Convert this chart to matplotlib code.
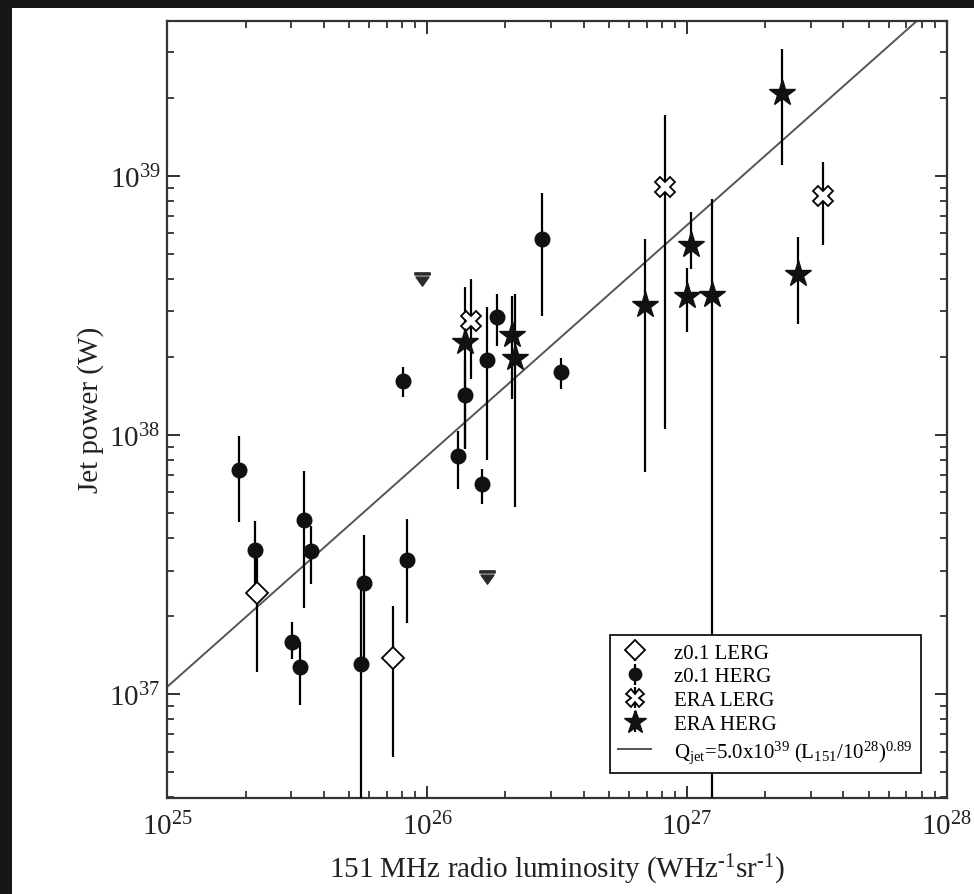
import numpy as np
import matplotlib
matplotlib.use('Agg')
from matplotlib import pyplot as plt
from matplotlib.path import Path
from matplotlib.patches import Rectangle

plt.rcParams['font.family'] = ['Liberation Serif', 'DejaVu Serif']
plt.rcParams['mathtext.fontset'] = 'custom'
plt.rcParams['mathtext.rm'] = 'Liberation Serif'
plt.rcParams['mathtext.it'] = 'Liberation Serif:italic'
plt.rcParams['mathtext.bf'] = 'Liberation Serif:bold'

# z0.1 LERG (open diamonds)
lerg_L = [2.21e25, 7.40e25]
lerg_Q = [2.45e37, 1.38e37]
lerg_lo = [1.22e37, 5.71e36]
lerg_hi = [3.48e37, 2.18e37]

# z0.1 HERG (filled circles)
herg_L = [1.89e25, 2.18e25, 3.37e25, 3.56e25, 3.03e25, 3.23e25, 5.57e25, 5.74e25,
          8.40e25, 8.08e25, 1.315e26, 1.40e26, 1.633e26, 1.70e26, 1.858e26, 2.76e26, 3.28e26]
herg_Q = [7.31e37, 3.60e37, 4.70e37, 3.56e37, 1.59e37, 1.27e37, 1.31e37, 2.68e37,
          3.30e37, 1.62e38, 8.26e37, 1.42e38, 6.44e37, 1.94e38, 2.85e38, 5.70e38, 1.75e38]
herg_lo = [4.61e37, 2.55e37, 2.15e37, 2.65e37, 1.37e37, 9.12e36, 1e36, 1.37e37,
           1.88e37, 1.40e38, 6.19e37, 8.83e37, 5.42e37, 8.01e37, 2.21e38, 2.88e38, 1.51e38]
herg_hi = [9.94e37, 4.65e37, 7.28e37, 4.47e37, 1.90e37, 1.59e37, 2.55e37, 4.11e37,
           4.74e37, 1.83e38, 1.04e38, 1.93e38, 7.39e37, 3.12e38, 3.50e38, 8.58e38, 1.98e38]

# ERA LERG (open crosses)
era_lerg_L = [1.47e26, 8.27e26, 3.35e27]
era_lerg_Q = [2.74e38, 9.07e38, 8.37e38]
era_lerg_lo = [1.65e38, 1.055e38, 5.42e38]
era_lerg_hi = [4.01e38, 1.71e39, 1.13e39]

# ERA HERG (stars)
era_herg_L = [1.394e26, 2.13e26, 2.18e26, 6.90e26, 9.98e26, 1.034e27, 1.246e27, 2.32e27, 2.68e27]
era_herg_Q = [2.28e38, 2.42e38, 1.98e38, 3.16e38, 3.44e38, 5.40e38, 3.48e38, 2.08e39, 4.18e38]
era_herg_lo = [8.83e37, 1.38e38, 5.28e37, 7.22e37, 2.50e38, 4.37e38, 1e36, 1.10e39, 2.68e38]
era_herg_hi = [3.72e38, 3.44e38, 3.50e38, 5.70e38, 4.41e38, 7.24e38, 8.13e38, 3.08e39, 5.79e38]

# upper limits
lim_L = [9.53e25, 1.70e26]
lim_Q = [3.96e38, 2.81e37]

# fit Q = A (L/1e28)^b
fit_A = 5.0e39
fit_b = 0.89


def yerr(q, lo, hi):
    q = np.array(q)
    return [q - np.array(lo), np.array(hi) - q]


fig = plt.figure(figsize=(9.74, 8.95), dpi=100)
fig.patch.set_facecolor('#161616')
fig.add_artist(Rectangle((12 / 974, 0), 1, 1 - 9 / 895, transform=fig.transFigure,
                         facecolor='white', edgecolor='none', zorder=0))

ax = fig.add_axes([0.1718, 0.1073, 0.8002, 0.8685])
ax.set_xscale('log')
ax.set_yscale('log')
ax.set_xlim(1e25, 1e28)
ax.set_ylim(3.98e36, 3.96e39)

lx = np.logspace(25, 28.2, 50)
fit_line, = ax.plot(lx, fit_A * (lx / 1e28) ** fit_b, color='#555555', lw=1.4, zorder=2)

ek = dict(ecolor='black', elinewidth=1.6, capsize=0, ls='none', zorder=3)
h1 = ax.errorbar(lerg_L, lerg_Q, yerr=yerr(lerg_Q, lerg_lo, lerg_hi), marker='D', ms=11.5,
                 mfc='white', mec='black', mew=1.3, **ek)
h2 = ax.errorbar(herg_L, herg_Q, yerr=yerr(herg_Q, herg_lo, herg_hi), marker='o', ms=10.5,
                 mfc='#111111', mec='#111111', **ek)
h3 = ax.errorbar(era_lerg_L, era_lerg_Q, yerr=yerr(era_lerg_Q, era_lerg_lo, era_lerg_hi),
                 marker='X', ms=15, mfc='white', mec='black', mew=1.3, **ek)
h4 = ax.errorbar(era_herg_L, era_herg_Q, yerr=yerr(era_herg_Q, era_herg_lo, era_herg_hi),
                 marker='*', ms=20, mfc='#111111', mec='#111111', **ek)

# upper-limit symbol: bar with a down triangle under it
verts = [(-1, 1.0), (1, 1.0), (1, 0.72), (-1, 0.72), (-1, 1.0),
         (-0.85, 0.45), (0.85, 0.45), (0, -0.75), (-0.85, 0.45)]
codes = [Path.MOVETO, Path.LINETO, Path.LINETO, Path.LINETO, Path.CLOSEPOLY,
         Path.MOVETO, Path.LINETO, Path.LINETO, Path.CLOSEPOLY]
ax.plot(lim_L, lim_Q, ls='none', marker=Path(verts, codes), ms=11, color='#2a2a2a', zorder=3)

ax.tick_params(which='both', direction='in', top=True, right=True, colors='#222222',
               labelcolor='#222222')
ax.tick_params(which='major', length=9, width=1.3, labelsize=21)
ax.tick_params(which='minor', length=5, width=1.2)
ax.tick_params(axis='x', which='major', pad=10)
ax.tick_params(axis='y', which='major', pad=5)
for s in ax.spines.values():
    s.set_linewidth(1.6)
    s.set_color('#333333')

ax.set_xlabel(r'151 MHz radio luminosity (WHz$^{\text{-}1}$sr$^{\text{-}1}$)', fontsize=21,
              color='#222222', labelpad=8)
ax.set_ylabel('Jet power (W)', fontsize=21, color='#222222', labelpad=4)

leg = ax.legend([h1, h2, h3, h4, fit_line],
                ['z0.1 LERG', 'z0.1 HERG', 'ERA LERG', 'ERA HERG',
                 r'Q$_{\rm jet}$=5.0x10$^{39}$ (L$_{151}$/10$^{28}$)$^{0.89}$'],
                loc='lower right', bbox_to_anchor=(0.967, 0.032), borderaxespad=0,
                fontsize=15, frameon=True, fancybox=False, framealpha=1,
                edgecolor='black', handlelength=1.6, handletextpad=1.1,
                labelspacing=0.2, borderpad=0.4, markerscale=0.85)
leg.get_frame().set_linewidth(1.2)
leg.set_zorder(5)

fig.savefig('out.png', dpi=100, facecolor=fig.get_facecolor())
